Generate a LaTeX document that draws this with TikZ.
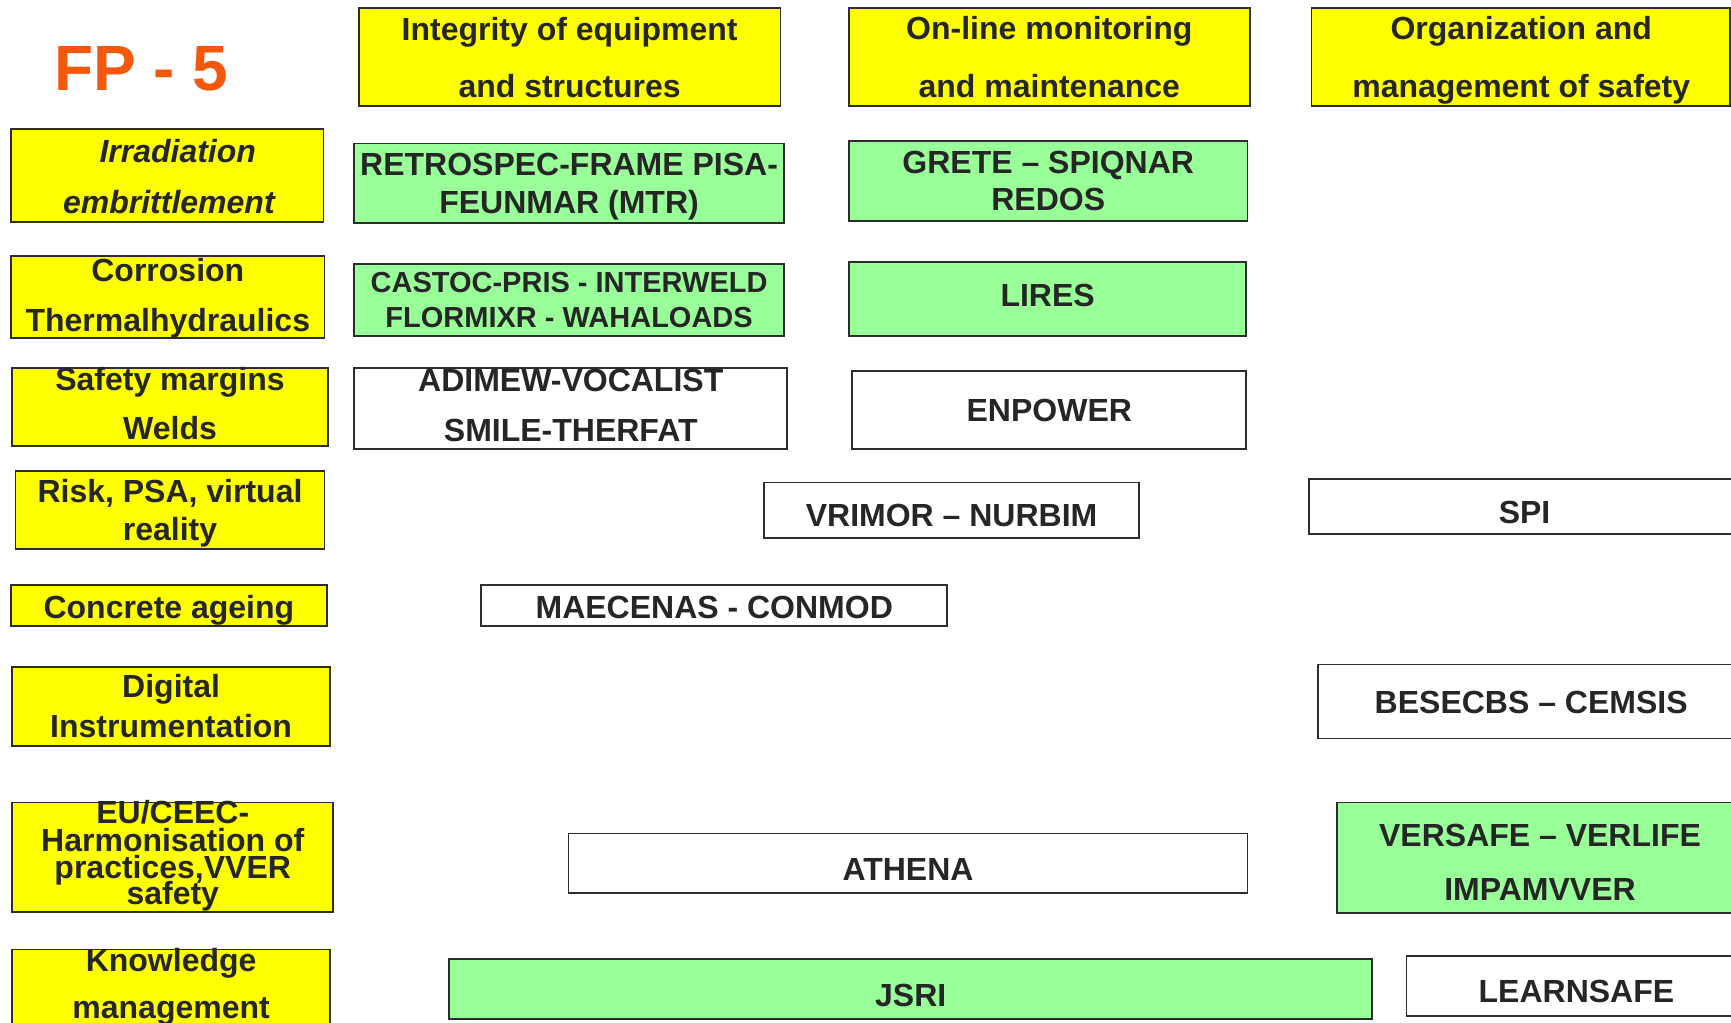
\documentclass[tikz,border=0pt]{standalone}
\usepackage{fontspec}
\setmainfont{Liberation Sans}
\definecolor{yel}{RGB}{255,255,0}
\definecolor{grn}{RGB}{153,255,153}
\definecolor{bord}{RGB}{45,45,45}
\definecolor{ink}{RGB}{38,38,38}
\definecolor{fpcol}{RGB}{245,88,10}
\newcommand\mybox[6]{%
  \node[#6, minimum width={(#4-#2)*1.104pt}, minimum height={(#5-#3)*1.104pt}]
    (#1) at ({(#2+#4)/2},{(#3+#5)/2}) {};}
\tikzset{
  bx/.style={draw=bord, line width=1.8pt, inner sep=0pt, outer sep=0pt},
  ybox/.style={bx, fill=yel},
  gbox/.style={bx, fill=grn},
  wbox/.style={bx, fill=white},
  tx/.style={anchor=base, inner sep=0pt, text=ink, font=\fontsize{32}{32}\selectfont\bfseries},
  txs/.style={tx, font=\fontsize{29}{29}\selectfont\bfseries},
  txi/.style={tx, font=\fontsize{32}{32}\selectfont\bfseries\itshape},
}
\begin{document}
\begin{tikzpicture}[x=1.104pt, y=-1.104pt]
\useasboundingbox (0,0) rectangle (1568,926);
\clip (0,0) rectangle (1568,926);
\fill[white] (0,0) rectangle (1568,926);

% title
\node[anchor=base, inner sep=0pt, text=fpcol, font=\fontsize{64}{64}\selectfont\bfseries] (title) at (128,82) {FP - 5};

% headers
\mybox{h1}{325}{7}{707}{96}{ybox}
\node[tx] (h1a) at (516,37) {Integrity of equipment};
\node[tx] (h1b) at (516,88) {and structures};
\mybox{h2}{769}{7}{1132}{96}{ybox}
\node[tx] (h2a) at (950.5,36) {On-line monitoring};
\node[tx] (h2b) at (950.5,88) {and maintenance};
\mybox{h3}{1188}{7}{1567}{96}{ybox}
\node[tx] (h3a) at (1378,36) {Organization and};
\node[tx] (h3b) at (1378,88) {management of safety};

% left column
\mybox{l1}{10}{117}{293}{201}{ybox}
\node[txi] (l1a) at (161,147) {Irradiation};
\node[txi] (l1b) at (153,193) {embrittlement};
\mybox{l2}{10}{232}{294}{306}{ybox}
\node[tx] (l2a) at (152,255) {Corrosion};
\node[tx] (l2b) at (152,300) {Thermalhydraulics};
\mybox{l3}{11}{333}{297}{404}{ybox}
\node[tx] (l3a) at (154,354) {Safety margins};
\node[tx] (l3b) at (154,398) {Welds};
\mybox{l4}{14}{427}{294}{497}{ybox}
\node[tx] (l4a) at (154,455) {Risk, PSA, virtual};
\node[tx] (l4b) at (154,490) {reality};
\mybox{l5}{10}{530}{296}{567}{ybox}
\node[tx] (l5a) at (153,560) {Concrete ageing};
\mybox{l6}{11}{604}{299}{676}{ybox}
\node[tx] (l6a) at (155,632) {Digital};
\node[tx] (l6b) at (155,668) {Instrumentation};
\mybox{l7}{11}{727}{302}{826}{ybox}
\node[tx] (l7a) at (156.5,746) {EU/CEEC-};
\node[tx] (l7b) at (156.5,771) {Harmonisation of};
\node[tx] (l7c) at (156.5,796) {practices,VVER};
\node[tx] (l7d) at (156.5,819) {safety};
\mybox{l8}{11}{860}{299}{945}{ybox}
\node[tx] (l8a) at (155,880) {Knowledge};
\node[tx] (l8b) at (155,923) {management};

% green boxes
\mybox{g1}{321}{130}{710}{202}{gbox}
\node[tx] (g1a) at (515.5,159) {RETROSPEC-FRAME PISA-};
\node[tx] (g1b) at (515.5,193) {FEUNMAR (MTR)};
\mybox{g2}{769}{128}{1130}{200}{gbox}
\node[tx] (g2a) at (949.5,157) {GRETE – SPIQNAR};
\node[tx] (g2b) at (949.5,191) {REDOS};
\mybox{g3}{321}{239}{710}{304}{gbox}
\node[txs] (g3a) at (515.5,265) {CASTOC-PRIS - INTERWELD};
\node[txs] (g3b) at (515.5,297) {FLORMIXR - WAHALOADS};
\mybox{g4}{769}{237}{1129}{304}{gbox}
\node[tx] (g4a) at (949,278) {LIRES};
\mybox{g5}{1211}{727}{1579}{827}{gbox}
\node[tx] (g5a) at (1395,767) {VERSAFE – VERLIFE};
\node[tx] (g5b) at (1395,816) {IMPAMVVER};
\mybox{g6}{407}{869}{1243}{923}{gbox}
\node[tx] (g6a) at (825,912) {JSRI};

% white boxes
\mybox{w1}{321}{333}{713}{407}{wbox}
\node[tx] (w1a) at (517,355) {ADIMEW-VOCALIST};
\node[tx] (w1b) at (517,400) {SMILE-THERFAT};
\mybox{w2}{772}{336}{1129}{407}{wbox}
\node[tx] (w2a) at (950.5,382) {ENPOWER};
\mybox{w3}{692}{437}{1032}{487}{wbox}
\node[tx] (w3a) at (862,477) {VRIMOR – NURBIM};
\mybox{w4}{1186}{434}{1576}{484}{wbox}
\node[tx] (w4a) at (1381,474) {SPI};
\mybox{w5}{436}{530}{858}{567}{wbox}
\node[tx] (w5a) at (647,560) {MAECENAS - CONMOD};
\mybox{w6}{1194}{602}{1580}{669}{wbox}
\node[tx] (w6a) at (1387,646) {BESECBS – CEMSIS};
\mybox{w7}{515}{755}{1130}{809}{wbox}
\node[tx] (w7a) at (822.5,798) {ATHENA};
\mybox{w8}{1274}{866}{1582}{920}{wbox}
\node[tx] (w8a) at (1428,908.5) {LEARNSAFE};
\end{tikzpicture}
\end{document}
